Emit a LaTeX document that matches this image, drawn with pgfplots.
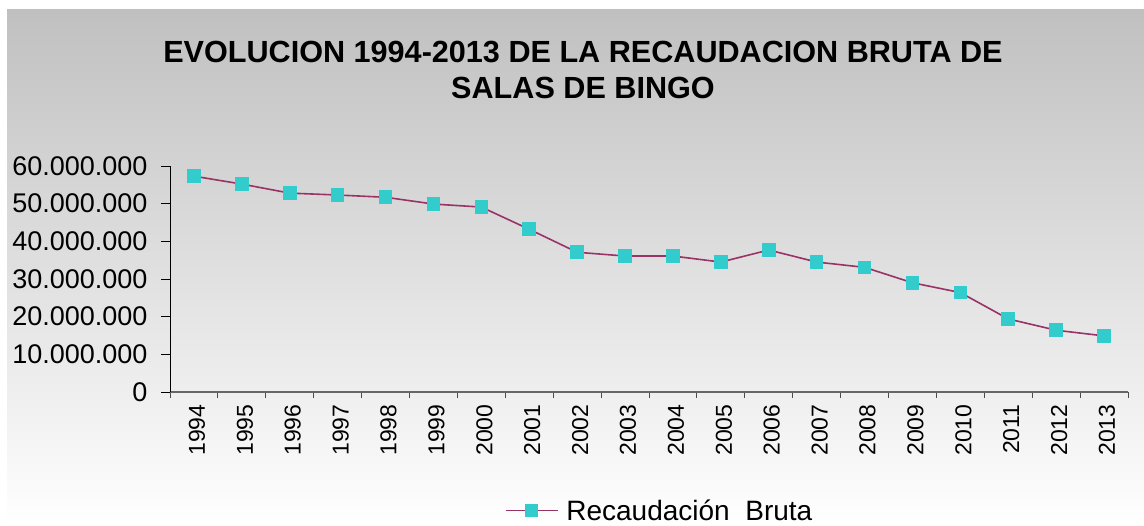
\documentclass[border=0pt]{standalone}
\usepackage{fontspec}
\setmainfont{Liberation Sans}
\usepackage{pgfplots}
\pgfplotsset{compat=1.18}
\definecolor{serieline}{HTML}{993366}
\definecolor{seriemark}{HTML}{33CCCC}
\definecolor{bgtop}{HTML}{C0C0C0}

\begin{document}
\begin{tikzpicture}
\path[use as bounding box] (0,0) rectangle (1144bp,-526bp);
\shade[top color=bgtop, bottom color=white] (7bp,-9bp) rectangle (1144bp,-526bp);
\node[font=\fontsize{30.6bp}{36bp}\selectfont\bfseries, align=center] at (583bp,-70bp)
  {EVOLUCION 1994-2013 DE LA RECAUDACION BRUTA DE\\SALAS DE BINGO};
\begin{axis}[
  at={(170bp,-392bp)}, anchor=south west,
  scale only axis,
  width=958bp, height=226bp,
  xmin=-0.5, xmax=19.5,
  ymin=0, ymax=60000000,
  ytick={0,10000000,...,60000000},
  scaled y ticks=false,
  /pgf/number format/fixed,
  /pgf/number format/precision=0,
  /pgf/number format/1000 sep={.},
  /pgf/number format/assume math mode=true,
  xtick={0,...,19},
  xticklabels={1994,1995,1996,1997,1998,1999,2000,2001,2002,2003,2004,2005,2006,2007,2008,2009,2010,2011,2012,2013},
  minor xtick={-0.5,0.5,...,19.5},
  major x tick style={draw=none},
  tick align=outside,
  major tick length=9bp,
  minor tick length=6bp,
  axis lines*=left,
  x axis line style={draw=black!60, line width=1.2bp},
  y axis line style={draw=black, line width=0.8bp},
  tick style={draw=black, line width=0.8bp},
  minor x tick style={draw=black!70, line width=1bp},
  y tick label style={font=\fontsize{27bp}{30bp}\selectfont, anchor=east, xshift=-10bp},
  x tick label style={font=\fontsize{23bp}{26bp}\selectfont, rotate=90, anchor=east, yshift=-3bp},
  legend style={at={(0.511,-0.525)}, anchor=center, draw=none, fill=none,
    inner sep=0bp,
    font=\fontsize{28bp}{30bp}\selectfont,
    /tikz/every even column/.append style={column sep=0bp}},
  legend image code/.code={
    \draw[mark repeat=2, mark phase=2] plot coordinates {(0bp,0bp) (26bp,0bp) (52bp,0bp)};
    \path (58bp,0bp);
  },
]
\addplot[color=serieline, line width=1.6bp, mark=square*, mark size=6bp,
  mark options={fill=seriemark, draw=seriemark, solid}]
coordinates {
(0,57300000) (1,55200000) (2,52800000) (3,52300000) (4,51700000)
(5,49900000) (6,49100000) (7,43200000) (8,37100000) (9,36100000)
(10,36100000) (11,34500000) (12,37700000) (13,34500000) (14,33100000)
(15,29000000) (16,26400000) (17,19400000) (18,16400000) (19,14900000)
};
\addlegendentry{Recaudación~~Bruta}
\end{axis}
\end{tikzpicture}
\end{document}
